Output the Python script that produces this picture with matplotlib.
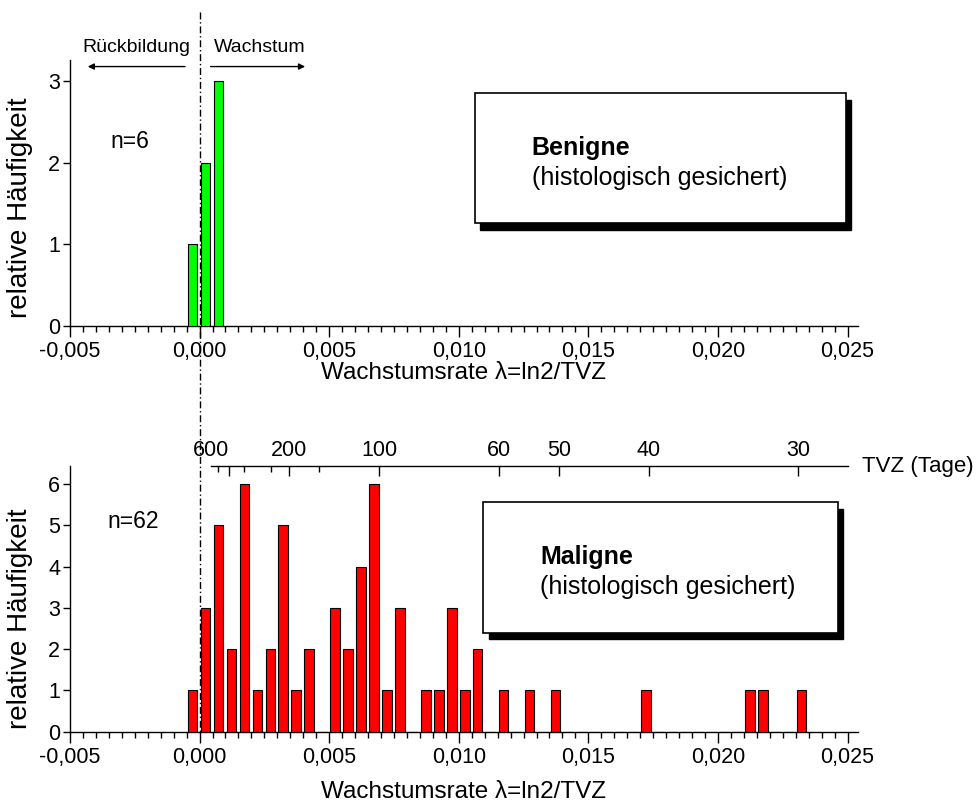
import numpy as np
import matplotlib
matplotlib.use('Agg')
import matplotlib.pyplot as plt
from matplotlib.patches import Rectangle
from matplotlib.lines import Line2D
import matplotlib.transforms as mtransforms

plt.rcParams['font.family'] = ['Liberation Sans', 'DejaVu Sans']

# Klassenbreite der Wachstumsrate
bin_width = 0.0005
first_bin = -1

# benigne Herde (n=6), Klassen ab -0,0005
benign_counts = [1, 2, 3]

# maligne Herde (n=62), Klassen ab -0,0005
malign_counts = [1, 3, 5, 2, 6, 1, 2, 5, 1, 2, 0, 3, 2, 4, 6, 1, 3, 0,
                 1, 1, 3, 1, 2, 0, 1, 0, 1, 0, 1, 0, 0, 0, 0, 0, 0, 1,
                 0, 0, 0, 0, 0, 0, 0, 1, 1, 0, 0, 1]

# obere Achse: Tumorverdopplungszeit in Tagen
tvz_major = [600, 200, 100, 60, 50, 40, 30]
tvz_minor = [1000, 400, 250, 150]

xticks = [-0.005, 0.0, 0.005, 0.010, 0.015, 0.020, 0.025]


def bin_centers(counts):
    k = np.arange(first_bin, first_bin + len(counts))
    return (k + 0.46) * bin_width


def fmt(v):
    return ('%.3f' % v).replace('.', ',')


def style_axis(ax, ymax, nticks, labelpad):
    ax.set_xlim(-0.005, 0.0254)
    ax.set_ylim(0, ymax)
    for s in ['top', 'right']:
        ax.spines[s].set_visible(False)
    for s in ['left', 'bottom']:
        ax.spines[s].set_linewidth(1.0)
    ax.set_xticks(xticks)
    ax.set_xticklabels([fmt(v) for v in xticks])
    ax.set_xticks(np.arange(-0.005, 0.02501, 0.0005), minor=True)
    ax.set_yticks(range(nticks + 1))
    ax.tick_params(axis='x', which='major', length=8, width=1, labelsize=15.5, pad=3)
    ax.tick_params(axis='x', which='minor', length=4, width=1)
    ax.tick_params(axis='y', length=5, width=1, labelsize=15.5, pad=2)
    ax.set_xlabel('Wachstumsrate λ=ln2/TVZ', fontsize=17.5, labelpad=labelpad)
    ax.set_ylabel('relative Häufigkeit', fontsize=20)


def add_box(ax, x, y, w, h, title, dx, dy):
    shadow = Rectangle((x + dx, y - dy), w, h, transform=ax.transAxes,
                       facecolor='black', edgecolor='black', zorder=4, clip_on=False)
    box = Rectangle((x, y), w, h, transform=ax.transAxes,
                    facecolor='white', edgecolor='black', linewidth=1.2, zorder=5, clip_on=False)
    ax.add_patch(shadow)
    ax.add_patch(box)
    ax.text(x + 0.072, y + h * 0.58, title, transform=ax.transAxes, fontsize=18,
            fontweight='bold', ha='left', va='center', zorder=6)
    ax.text(x + 0.072, y + h * 0.35, '(histologisch gesichert)', transform=ax.transAxes,
            fontsize=18, ha='left', va='center', zorder=6)


fig = plt.figure(figsize=(9.77, 8.09), dpi=100)
ax1 = fig.add_axes([0.0716, 0.597, 0.8065, 0.3288])
ax2 = fig.add_axes([0.0716, 0.0955, 0.8065, 0.3284])

# oben: benigne
ax1.bar(bin_centers(benign_counts), benign_counts, width=0.00037,
        color='#00ff00', edgecolor='black', linewidth=0.8, zorder=3)
style_axis(ax1, 3.26, 3, 0)
ax1.yaxis.set_label_coords(-0.047, 0.444)
ax1.text(0.051, 0.693, 'n=6', transform=ax1.transAxes, fontsize=16.5, va='center')
add_box(ax1, 0.514, 0.386, 0.4708, 0.4887, 'Benigne', 0.0063, 0.0244)

# Pfeile Rückbildung / Wachstum
ax1.annotate('', xy=(-0.00442, 3.18), xytext=(-0.00045, 3.18),
             arrowprops=dict(arrowstyle='-|>', color='black', lw=1, mutation_scale=9),
             annotation_clip=False)
ax1.annotate('', xy=(0.00418, 3.18), xytext=(0.00032, 3.18),
             arrowprops=dict(arrowstyle='-|>', color='black', lw=1, mutation_scale=9),
             annotation_clip=False)
ax1.text(-0.00244, 3.41, 'Rückbildung', fontsize=14, ha='center', va='center')
ax1.text(0.00233, 3.41, 'Wachstum', fontsize=14, ha='center', va='center')

# unten: maligne
ax2.bar(bin_centers(malign_counts), malign_counts, width=0.00037,
        color='#ff0000', edgecolor='black', linewidth=0.8, zorder=3)
style_axis(ax2, 6.44, 6, 9)
ax2.yaxis.set_label_coords(-0.047, 0.424)
ax2.text(0.048, 0.793, 'n=62', transform=ax2.transAxes, fontsize=16.5, va='center')
add_box(ax2, 0.5245, 0.3726, 0.4497, 0.492, 'Maligne', 0.007, 0.0245)

# obere Achse TVZ
ax3 = ax2.twiny()
ax3.set_xlim(ax2.get_xlim())
for s in ['left', 'right', 'bottom']:
    ax3.spines[s].set_visible(False)
ax3.spines['top'].set_bounds(0.00043, 0.0250)
ax3.spines['top'].set_linewidth(1.0)
ax3.set_xticks([np.log(2) / t for t in tvz_major])
ax3.set_xticklabels([str(t) for t in tvz_major])
ax3.set_xticks([np.log(2) / t for t in tvz_minor], minor=True)
ax3.tick_params(axis='x', which='major', direction='in', length=7, width=1, labelsize=15.5, pad=4)
ax3.tick_params(axis='x', which='minor', direction='in', length=4, width=1)
ax3.get_xticklabels()[0].set_ha('right')
ax3.text(1.005, 1.0, 'TVZ (Tage)', transform=ax3.transAxes, fontsize=16,
         ha='left', va='center', clip_on=False)

# Trennlinie bei lambda = 0
trans = mtransforms.blended_transform_factory(ax2.transData, fig.transFigure)
fig.lines.append(Line2D([0, 0], [0.985, 0.0952], transform=trans, color='black',
                        linestyle=(0, (5, 2, 1, 2)), linewidth=1, zorder=10))

plt.savefig('out.png', dpi=100)
